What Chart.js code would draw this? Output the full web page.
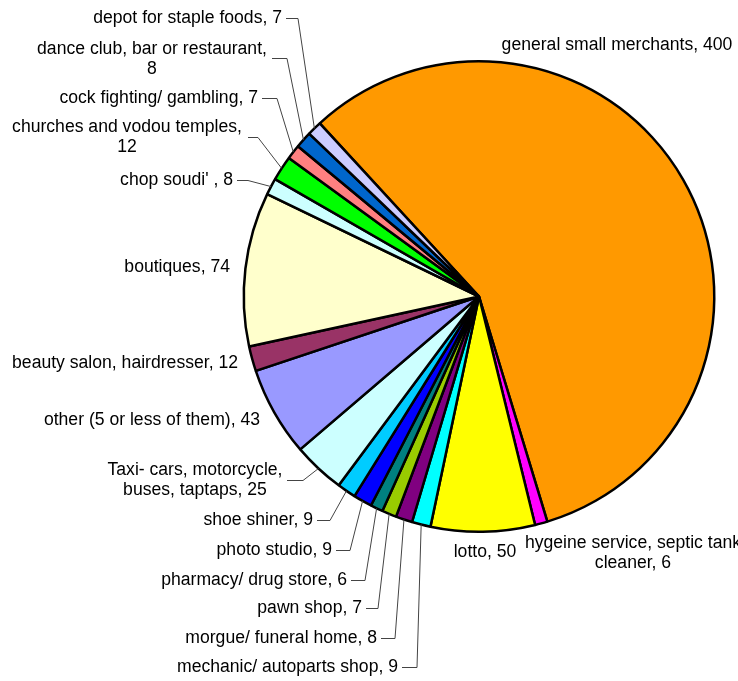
<!DOCTYPE html>
<html>
<head>
<meta charset="utf-8">
<script src="https://cdn.jsdelivr.net/npm/chart.js@4/dist/chart.umd.min.js"></script>
<style>
  html, body { margin: 0; padding: 0; background: #fff; }
  #wrap { width: 738px; height: 681px; }
</style>
</head>
<body>
<div id="wrap"><canvas id="pieChart" width="738" height="681"></canvas></div>
<script>
// data, clockwise from the big orange slice
const categories = [
  'general small merchants',
  'hygeine service, septic tank cleaner',
  'lotto',
  'mechanic/ autoparts shop',
  'morgue/ funeral home',
  'pawn shop',
  'pharmacy/ drug store',
  'photo studio',
  'shoe shiner',
  'Taxi- cars, motorcycle, buses, taptaps',
  'other (5 or less of them)',
  'beauty salon, hairdresser',
  'boutiques',
  "chop soudi' ",
  'churches and vodou temples',
  'cock fighting/ gambling',
  'dance club, bar or restaurant',
  'depot for staple foods'
];
const counts = [400, 6, 50, 9, 8, 7, 6, 9, 9, 25, 43, 12, 74, 8, 12, 7, 8, 7];
const sliceColors = [
  '#FF9900', '#FF00FF', '#FFFF00', '#00FFFF', '#800080', '#99CC00',
  '#008080', '#0000FF', '#00CCFF', '#CCFFFF', '#9999FF', '#993366',
  '#FFFFCC', '#CCFFFF', '#00FF00', '#FF8080', '#0066CC', '#CCCCFF'
];

// where each label sits; leader lines run to the slice edge
const labelLayout = [
  { x: 617, y: 45, align: 'center' },
  { x: 633, y: 543, align: 'center', br: 'tank' },
  { x: 485, y: 552, align: 'center' },
  { x: 398, y: 667, align: 'right', lead: [402, 667, 417] },
  { x: 377, y: 638, align: 'right', lead: [381, 638, 395] },
  { x: 362, y: 608, align: 'right', lead: [366, 608, 378] },
  { x: 347, y: 580, align: 'right', lead: [351, 580, 365] },
  { x: 332, y: 550, align: 'right', lead: [336, 550, 350] },
  { x: 313, y: 520, align: 'right', lead: [317, 520, 330] },
  { x: 195, y: 470, align: 'center', br: 'motorcycle,', lead: [287, 480, 303] },
  { x: 260, y: 420, align: 'right' },
  { x: 238, y: 363, align: 'right' },
  { x: 230, y: 267, align: 'right' },
  { x: 233, y: 180, align: 'right', lead: [237, 180, 248] },
  { x: 127, y: 127, align: 'center', br: 'temples,', lead: [248, 137, 258] },
  { x: 258, y: 98, align: 'right', lead: [262, 98, 277] },
  { x: 152, y: 49, align: 'center', br: 'restaurant,', lead: [272, 58, 287] },
  { x: 282, y: 18, align: 'right', lead: [286, 18, 298] }
];

const sliceLabels = {
  id: 'sliceLabels',
  afterDatasetsDraw(chart) {
    const c = chart.ctx;
    const arcs = chart.getDatasetMeta(0).data;
    c.save();
    c.font = '17.6px "Liberation Sans", Arial, sans-serif';
    c.fillStyle = '#000';
    c.textBaseline = 'middle';
    arcs.forEach((arc, i) => {
      const lay = labelLayout[i];
      let text = categories[i] + ', ' + counts[i];
      if (lay.br) text = text.replace(lay.br + ' ', lay.br + '\n');
      c.textAlign = lay.align;
      text.split('\n').forEach((line, k) => c.fillText(line, lay.x, lay.y + k * 20));
      if (lay.lead) {
        const mid = (arc.startAngle + arc.endAngle) / 2;
        const px = arc.x + Math.cos(mid) * arc.outerRadius;
        const py = arc.y + Math.sin(mid) * arc.outerRadius;
        c.beginPath();
        c.strokeStyle = '#444';
        c.lineWidth = 1;
        c.moveTo(lay.lead[0], lay.lead[1] + 0.5);
        c.lineTo(lay.lead[2], lay.lead[1] + 0.5);
        c.lineTo(px, py);
        c.stroke();
      }
    });
    c.restore();
  }
};

new Chart(document.getElementById('pieChart').getContext('2d'), {
  type: 'pie',
  data: {
    labels: categories,
    datasets: [{
      data: counts,
      backgroundColor: sliceColors,
      borderColor: '#000',
      borderWidth: 2.5
    }]
  },
  options: {
    responsive: false,
    animation: false,
    rotation: -42.6,
    layout: { padding: { left: 242, right: 22, top: 60, bottom: 148 } },
    plugins: {
      legend: { display: false },
      tooltip: { enabled: false }
    }
  },
  plugins: [sliceLabels]
});
</script>
</body>
</html>
